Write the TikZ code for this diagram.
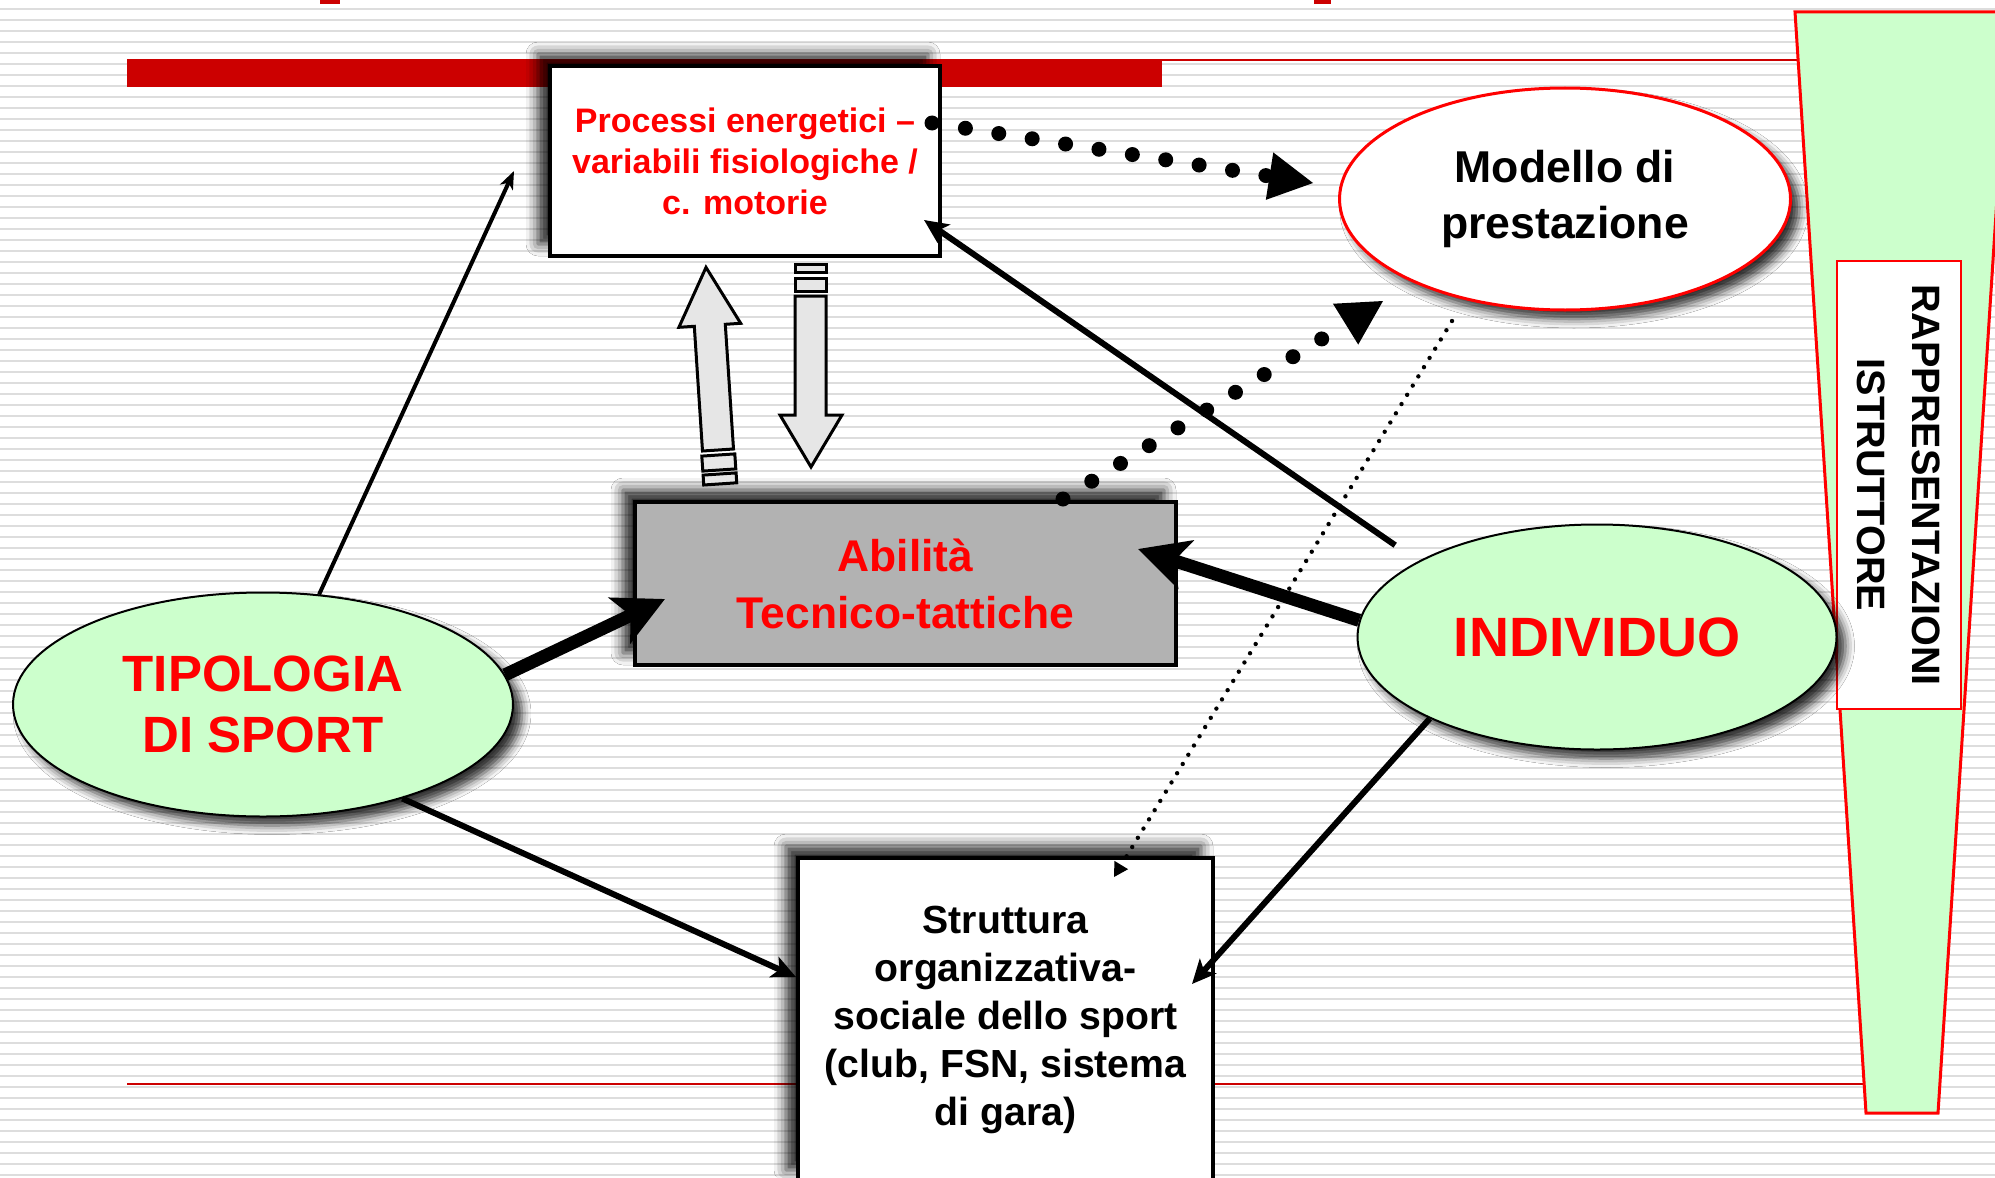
\documentclass[tikz,border=0pt]{standalone}
\usepackage{fontspec}
\setmainfont{Liberation Sans}
\usetikzlibrary{arrows.meta, shapes.geometric, shadows.blur}

\definecolor{barred}{HTML}{CC0000}
\definecolor{mintgreen}{HTML}{CCFFCC}
\definecolor{boxgrey}{HTML}{B2B2B2}
\definecolor{stripegrey}{HTML}{DDDDDD}
\definecolor{arrowgrey}{HTML}{E6E6E6}

\tikzstyle{box_shadow} = [
    blur shadow={shadow xshift=-6pt, shadow yshift=6pt,
        shadow blur radius=6pt, shadow opacity=85}
]
\tikzstyle{oval_shadow} = [
    blur shadow={shadow xshift=4.5pt, shadow yshift=-4.5pt,
        shadow blur radius=4.5pt, shadow opacity=80}
]
\tikzstyle{white_box} = [
    rectangle, 
    draw=black, 
    line width=2pt, 
    fill=white, 
    align=center, 
    inner sep=0pt, 
    box_shadow
]
\tikzstyle{grey_box} = [
    white_box, 
    fill=boxgrey
]
\tikzstyle{green_oval} = [
    ellipse, 
    draw=black, 
    line width=1pt, 
    fill=mintgreen, 
    text=red, 
    align=center, 
    inner sep=0pt, 
    oval_shadow
]
\tikzstyle{white_oval} = [
    ellipse, 
    draw=red, 
    line width=1.5pt, 
    fill=white, 
    align=center, 
    inner sep=0pt, 
    oval_shadow
]
\tikzstyle{link} = [-{Stealth[length=12pt, width=11pt, inset=3pt]}, line width=3pt]
\tikzstyle{thin_link} = [-{Stealth[length=9pt, width=7pt, inset=2.5pt]}, line width=2pt]
\tikzstyle{fat_link} = [-{Stealth[length=25pt, width=25pt, inset=6pt]}, line width=6.5pt]
\tikzstyle{dot_link} = [
    -{Triangle[length=22pt, width=24pt, line width=0pt]}, 
    line width=7.5pt, 
    line cap=round, 
    dash pattern=on 0pt off 16.9pt
]
\tikzstyle{fine_dot_link} = [
    -{Triangle[length=7pt, width=8pt, line width=0pt]}, 
    line width=2.2pt, 
    line cap=round, 
    dash pattern=on 0pt off 5.4pt
]
\tikzstyle{block_arrow} = [draw=black, line width=1.5pt, fill=arrowgrey]

\begin{document}
\begin{tikzpicture}[x=0.5pt, y=-0.5pt]
\useasboundingbox (0,0) rectangle (1995,1177);
\clip (0,0) rectangle (1995,1177);

% background
\fill[white] (0,0) rectangle (1995,1177);
\foreach \y in {9,20,...,1177}
    \draw[stripegrey, line width=1pt] (0,\y) -- (1995,\y);

% slide decoration
\fill[barred] (320,0) rectangle (340,4);
\fill[barred] (1314,0) rectangle (1331,4);
\fill[barred] (127,59) rectangle (1162,87);
\draw[barred, line width=1pt] (1162,60) -- (1797,60);
\draw[barred, line width=1.2pt] (127,1084) -- (1864,1084);
\draw[red, line width=1.5pt, fill=mintgreen] 
    (1795,12) -- (2009,12) -- (1938,1113) -- (1866,1113) -- cycle;
\node [rectangle, rotate=-90, draw=red, line width=1pt, fill=white, 
    minimum width=224pt, minimum height=62pt, inner sep=0pt, align=center,
    font=\bfseries\fontsize{19.8pt}{27.5pt}\selectfont] 
    (rappresentazioni) at (1899,485) {RAPPRESENTAZIONI\\ISTRUTTORE};

% nodes
\node [white_box, minimum width=195pt, minimum height=95pt, text=red,
    font=\bfseries\fontsize{17pt}{20.5pt}\selectfont] 
    (processi) at (745,161) {Processi energetici –\\variabili fisiologiche /\\c. motorie};
\node [grey_box, minimum width=270.5pt, minimum height=81.5pt, text=red,
    font=\bfseries\fontsize{22.2pt}{28.5pt}\selectfont] 
    (abilita) at (905.5,583.5) {Abilità\\Tecnico-tattiche};
\node [white_box, minimum width=207.5pt, minimum height=162pt,
    font=\bfseries\fontsize{19.6pt}{24pt}\selectfont] 
    (struttura) at (1005.5,1020) {Struttura\\organizzativa-\\sociale dello sport\\(club, FSN, sistema\\di gara)};
\node [white_oval, minimum width=225.5pt, minimum height=111pt,
    font=\bfseries\fontsize{22.3pt}{28pt}\selectfont] 
    (modello) at (1565,199) {Modello di\\prestazione};
\node [green_oval, minimum width=239.5pt, minimum height=112.5pt,
    font=\bfseries\fontsize{27.7pt}{33pt}\selectfont] 
    (individuo) at (1597,637) {INDIVIDUO};
\node [green_oval, minimum width=250pt, minimum height=112pt,
    font=\bfseries\fontsize{25.5pt}{30.5pt}\selectfont] 
    (tipologia) at (263,704.5) {TIPOLOGIA\\DI SPORT};

% connectors
\draw [thin_link] (tipologia.63) -- ([xshift=-17pt, yshift=-5pt]processi.west);
\draw [fat_link] (tipologia.7.5) -- ([xshift=16pt, yshift=-7.75pt]abilita.west);
\draw [link] (tipologia.-34.5) -- ([yshift=21.5pt]struttura.west);
\draw [link, shorten <=14pt] (individuo.157) -- ([xshift=-9pt, yshift=19pt]processi.south east);
\draw [fat_link] (individuo.176) -- ([xshift=-20pt, yshift=17.25pt]abilita.east);
\draw [link] (individuo.206) -- ([xshift=-11.5pt, yshift=18pt]struttura.east);
\draw [fine_dot_link] ([xshift=-56.5pt, yshift=-61pt]modello.center) 
    -- ([xshift=54.25pt, yshift=-10.5pt]struttura.north);
\draw [dot_link] ([xshift=-5pt, yshift=19pt]processi.east) 
    -- ([xshift=-12.5pt, yshift=8pt]modello.west);
\draw [dot_link] ([xshift=78.75pt, yshift=0.5pt]abilita.north) 
    -- ([xshift=-91pt, yshift=-51pt]modello.center);

% block arrows between processi and abilita
\draw [block_arrow] (702.5,451) -- (694.3,326.3) -- (678.9,327.3) -- (706,267.4) 
    -- (740.7,323.3) -- (725.3,324.3) -- (733.5,449) -- cycle;
\draw [block_arrow] (701.8,456.1) -- (734.8,453.9) -- (735.8,468.9) -- (702.8,471.1) -- cycle;
\draw [block_arrow] (703.1,475.1) -- (736.1,472.9) -- (736.7,482.8) -- (703.7,485) -- cycle;
\draw [block_arrow] (795,296) -- (826,296) -- (826,415) -- (842,415) -- (811,467) 
    -- (780,415) -- (795,415) -- cycle;
\draw [block_arrow] (795,278) rectangle (826,291);
\draw [block_arrow] (795,264) rectangle (826,272);
\end{tikzpicture}
\end{document}
